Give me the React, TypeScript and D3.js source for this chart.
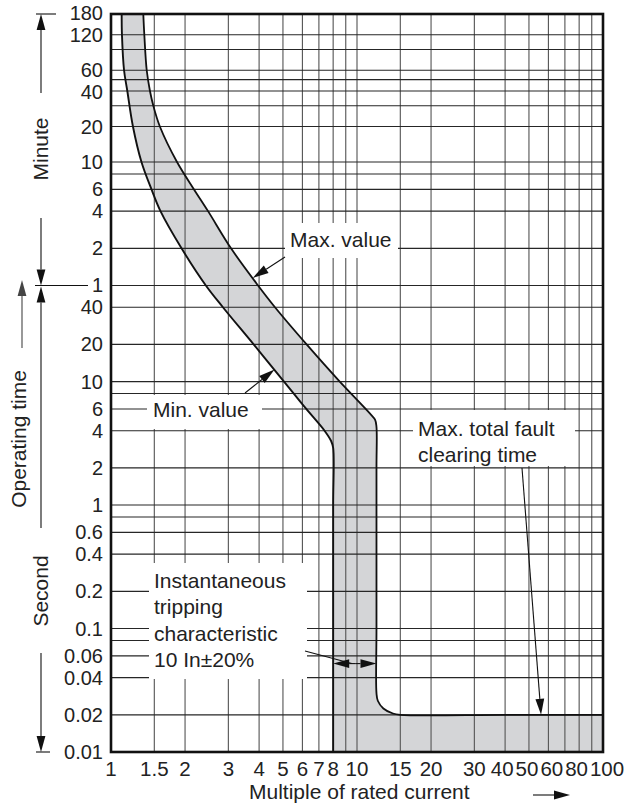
import * as d3 from "d3";

// time-current characteristic, x = multiple of rated current, y = seconds
const xGrid = [1.5, 2, 3, 4, 5, 6, 7, 8, 9, 10, 15, 20, 30, 40, 50, 60, 70, 80, 90];
const xTicks = [1, 1.5, 2, 3, 4, 5, 6, 7, 8, 10, 15, 20, 30, 40, 50, 60, 80, 100];
const minuteTicks = [180, 120, 60, 40, 20, 10, 6, 4, 2, 1];
const secondTicks = [40, 20, 10, 6, 4, 2, 1, 0.6, 0.4, 0.2, 0.1, 0.06, 0.04, 0.02, 0.01];
const minuteGrid = [120, 90, 60, 50, 40, 30, 20, 10, 8, 6, 4, 2, 1];
const secondGrid = [40, 20, 10, 8, 6, 4, 2, 1, 0.8, 0.6, 0.4, 0.2, 0.1, 0.08, 0.06, 0.04, 0.02];

// [multiple of In, seconds]
const minCurve: [number, number][] = [
  [1.105, 10800], [1.108, 7200], [1.13, 3600], [1.165, 2400], [1.228, 1200],
  [1.33, 600], [1.461, 360], [1.589, 240], [1.935, 120], [2.43, 60],
  [2.85, 40], [3.8, 20], [5.05, 10], [6.22, 6], [7.38, 4], [7.85, 3.3],
  [8, 2.9], [8, 1], [8, 0.1], [8, 0.01],
];
const maxCurve: [number, number][] = [
  [1.353, 10800], [1.366, 7200], [1.397, 3600], [1.44, 2400], [1.486, 1800],
  [1.58, 1200], [1.855, 600], [2.175, 360], [2.48, 240], [3.075, 120],
  [3.96, 60], [4.64, 40], [6.24, 20], [8.51, 10], [11.3, 5.5],
  [11.85, 4.9], [12, 4.3], [12, 2], [12, 0.1], [12, 0.03], [12.15, 0.026],
  [12.8, 0.0225], [14, 0.0205], [15, 0.02], [40, 0.02], [100, 0.02],
];

const W = 629;
const H = 803;
const left = 111;
const right = 603;
const top = 14;
const bottom = 752;
const font = "'Liberation Sans', Arial, Helvetica, sans-serif";
const fs = 21;
const tickFs = 20.5;
const yTickFs = 20;

const x = d3.scaleLog().domain([1, 100]).range([left, right]);
const y = d3.scaleLog().domain([0.01, 600, 10800]).range([bottom, 162, top]);

const line = d3
  .line<[number, number]>()
  .x((d) => x(d[0]))
  .y((d) => y(d[1]))
  .curve(d3.curveCatmullRom.alpha(0.5));

function Arrow({ x1, y1, x2, y2, color = "#111", w = 1.1 }: any) {
  const dx = x2 - x1;
  const dy = y2 - y1;
  const len = Math.hypot(dx, dy);
  const ux = dx / len;
  const uy = dy / len;
  const L = 16;
  const hw = 4.4;
  const bx = x2 - ux * L;
  const by = y2 - uy * L;
  const px = -uy;
  const py = ux;
  return (
    <g>
      <line x1={x1} y1={y1} x2={bx} y2={by} stroke={color} strokeWidth={w} />
      <polygon
        points={`${x2},${y2} ${bx + px * hw},${by + py * hw} ${bx - px * hw},${by - py * hw}`}
        fill={color}
      />
    </g>
  );
}

// push apart neighbouring labels (c = centre, w = extent along the axis)
function relax(items: { c: number; w: number }[], gap: number) {
  for (let k = 0; k < 80; k++) {
    for (let i = 0; i < items.length - 1; i++) {
      const a = items[i];
      const b = items[i + 1];
      const ov = a.c + a.w / 2 + gap - (b.c - b.w / 2);
      if (ov > 0) {
        a.c -= ov / 2;
        b.c += ov / 2;
      }
    }
  }
  return items;
}

function layoutXTicks() {
  const cw = (s: string) =>
    [...s].reduce((a, c) => a + (c === "." ? 0.278 : 0.556), 0) * tickFs;
  return relax(
    xTicks.map((v) => ({ v, c: x(v), w: cw(String(v)) })),
    2
  ) as { v: number; c: number; w: number }[];
}

function layoutYTicks() {
  const items = [
    ...minuteTicks.map((m) => ({ label: String(m), c: y(m * 60), w: yTickFs * 1.1 })),
    ...secondTicks.map((s) => ({ label: String(s), c: y(s), w: yTickFs * 1.1 })),
  ].sort((a, b) => a.c - b.c);
  return relax(items, 0) as { label: string; c: number; w: number }[];
}

export default function App() {
  const hLines = [...minuteGrid.map((m) => m * 60), ...secondGrid];
  const fillPath =
    line(maxCurve) +
    `L${x(100)},${y(0.01)}` +
    (line([...minCurve].reverse()) as string).replace(/^M/, "L") +
    "Z";
  const xt = layoutXTicks();
  const yt = layoutYTicks();
  const dblY = y(0.052);
  const mid = (x(8) + x(12)) / 2 + 1;

  return (
    <svg
      width={W}
      height={H}
      style={{ position: "absolute", left: 0, top: 0, background: "#fff" }}
      fontFamily={font}
    >
      <rect width={W} height={H} fill="#fff" />
      <path d={fillPath} fill="#d4d5d7" />

      {/* grid */}
      {xGrid.map((v) => (
        <line key={"v" + v} x1={x(v)} x2={x(v)} y1={top} y2={bottom} stroke="#5a5a5a" strokeWidth={1.15} />
      ))}
      {hLines.map((v) => (
        <line key={"h" + v} x1={left} x2={right} y1={y(v)} y2={y(v)} stroke="#262626" strokeWidth={1.15} />
      ))}

      {/* label backgrounds */}
      <rect x={285} y={223} width={113} height={35} fill="#fff" />
      <rect x={147} y={395} width={115} height={34} fill="#fff" />
      <rect x={413} y={410} width={162} height={56} fill="#fff" />
      <rect x={149} y={563} width={158} height={116} fill="#fff" />

      {/* curves */}
      <path d={line(maxCurve) as string} fill="none" stroke="#111" strokeWidth={1.8} />
      <path d={line(minCurve) as string} fill="none" stroke="#111" strokeWidth={1.9} />

      {/* frame */}
      <rect x={left} y={top} width={right - left} height={bottom - top} fill="none" stroke="#111" strokeWidth={2.6} />

      {/* y tick labels */}
      {yt.map((d, i) => (
        <text key={"y" + i} x={103} y={d.c} dy="0.35em" textAnchor="end" fontSize={yTickFs} fill="#222">
          {d.label}
        </text>
      ))}

      {/* x tick labels */}
      {xt.map((d) => (
        <text key={"x" + d.v} x={d.c} y={775.5} textAnchor="middle" fontSize={tickFs} fill="#222">
          {d.v}
        </text>
      ))}
      <text x={249} y={799} fontSize={fs} fill="#222">
        Multiple of rated current
      </text>
      <Arrow x1={533} y1={795} x2={570} y2={795} />

      {/* left axis annotations */}
      <line x1={36} x2={56} y1={top} y2={top} stroke="#111" strokeWidth={1.1} />
      <line x1={35} x2={88} y1={y(60)} y2={y(60)} stroke="#111" strokeWidth={1.1} />
      <line x1={36} x2={50} y1={bottom} y2={bottom} stroke="#111" strokeWidth={1.1} />
      <Arrow x1={41} y1={93} x2={41} y2={top} />
      <Arrow x1={41} y1={218} x2={41} y2={y(60)} />
      <Arrow x1={41} y1={528} x2={41} y2={y(60) + 1} />
      <Arrow x1={41} y1={653} x2={41} y2={bottom} />
      <Arrow x1={22} y1={348} x2={22} y2={280} color="#444" />
      <text transform={`translate(48,149) rotate(-90)`} textAnchor="middle" fontSize={fs} fill="#222">
        Minute
      </text>
      <text transform={`translate(48,591) rotate(-90)`} textAnchor="middle" fontSize={fs} fill="#222">
        Second
      </text>
      <text transform={`translate(26,439) rotate(-90)`} textAnchor="middle" fontSize={fs} fill="#222">
        Operating time
      </text>

      {/* curve annotations */}
      <text x={290} y={247} fontSize={fs} fill="#222">Max. value</text>
      <Arrow x1={285} y1={257} x2={x(3.77)} y2={y(69)} />
      <text x={153} y={417} fontSize={fs} fill="#222">Min. value</text>
      <Arrow x1={245} y1={393} x2={x(4.62)} y2={y(12.5)} />
      <text x={418} y={436} fontSize={fs} fill="#222">Max. total fault</text>
      <text x={418} y={462} fontSize={fs} fill="#222">clearing time</text>
      <Arrow x1={522} y1={468} x2={x(56)} y2={y(0.02)} />
      {["Instantaneous", "tripping", "characteristic", "10 In±20%"].map((t, i) => (
        <text key={t} x={154} y={588 + i * 26.4} fontSize={fs} fill="#222">
          {t}
        </text>
      ))}
      <line x1={305} y1={651} x2={mid - 4} y2={dblY} stroke="#111" strokeWidth={1.1} />
      <Arrow x1={mid} y1={dblY} x2={x(8)} y2={dblY} />
      <Arrow x1={mid} y1={dblY} x2={x(12)} y2={dblY} />
    </svg>
  );
}
